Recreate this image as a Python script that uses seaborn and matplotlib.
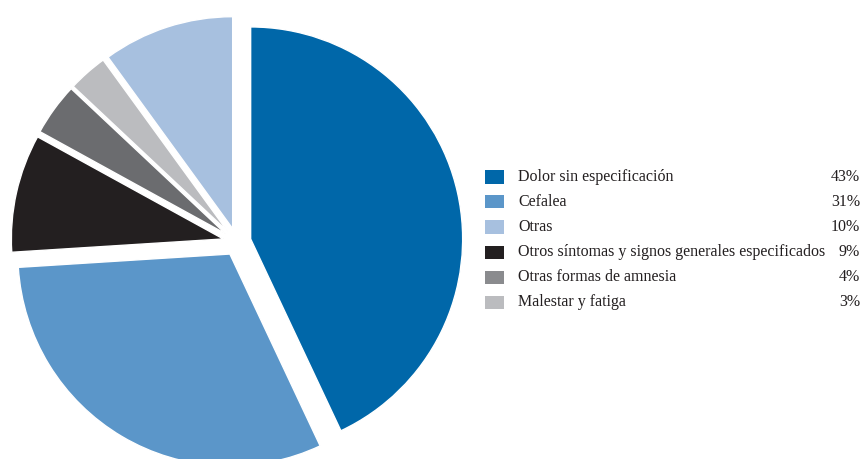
import matplotlib
matplotlib.use("Agg")
import matplotlib.pyplot as plt
from matplotlib.patches import Rectangle
import seaborn as sns

sns.set_theme(style="white")
plt.rcParams["font.family"] = ["Liberation Serif", "DejaVu Serif"]

# Slice order (clockwise from 12 o'clock)
pie_labels = ["Dolor sin especificación", "Cefalea",
              "Otros síntomas y signos generales especificados",
              "Otras formas de amnesia", "Malestar y fatiga", "Otras"]
pie_values = [43, 31, 9, 4, 3, 10]
pie_colors = ["#0067a9", "#5b96c9", "#231f20", "#6b6c6f", "#bbbcbf", "#a7c0df"]

# Legend order
legend_labels = ["Dolor sin especificación", "Cefalea", "Otras",
                 "Otros síntomas y signos generales especificados",
                 "Otras formas de amnesia", "Malestar y fatiga"]
legend_values = [43, 31, 10, 9, 4, 3]
legend_colors = ["#0067a9", "#5b96c9", "#a7c0df", "#231f20", "#8a8b8e", "#bbbcbf"]

W, H = 862, 459
fig = plt.figure(figsize=(W / 100, H / 100), dpi=100)

# pie geometry in pixels
cx, cy, r = 237, 242, 212
ax_w = 2 * cx
ax = fig.add_axes([0, 0, ax_w / W, 1])
ax.pie(pie_values, colors=pie_colors, startangle=90, counterclock=False,
       explode=[0.066] * len(pie_values), radius=1,
       wedgeprops=dict(edgecolor="white", linewidth=1.0))
ax.set_xlim(-cx / r, cx / r)
ax.set_ylim(-(H - cy) / r, cy / r)
ax.set_aspect("auto")
ax.axis("off")

# legend rows
text_color = "#231f20"
row_y0, row_dy = 177, 25
for i, (lab, val, col) in enumerate(zip(legend_labels, legend_values, legend_colors)):
    y = row_y0 + i * row_dy
    fig.patches.append(Rectangle((485 / W, 1 - (y + 6.5) / H), 19 / W, 13 / H,
                                 transform=fig.transFigure, facecolor=col,
                                 edgecolor="none"))
    fig.text(518 / W, 1 - y / H, lab, ha="left", va="center",
             fontsize=11.5, color=text_color)
    fig.text(860 / W, 1 - y / H, f"{val}%", ha="right", va="center",
             fontsize=11.5, color=text_color)

fig.savefig("out.png", dpi=100)
